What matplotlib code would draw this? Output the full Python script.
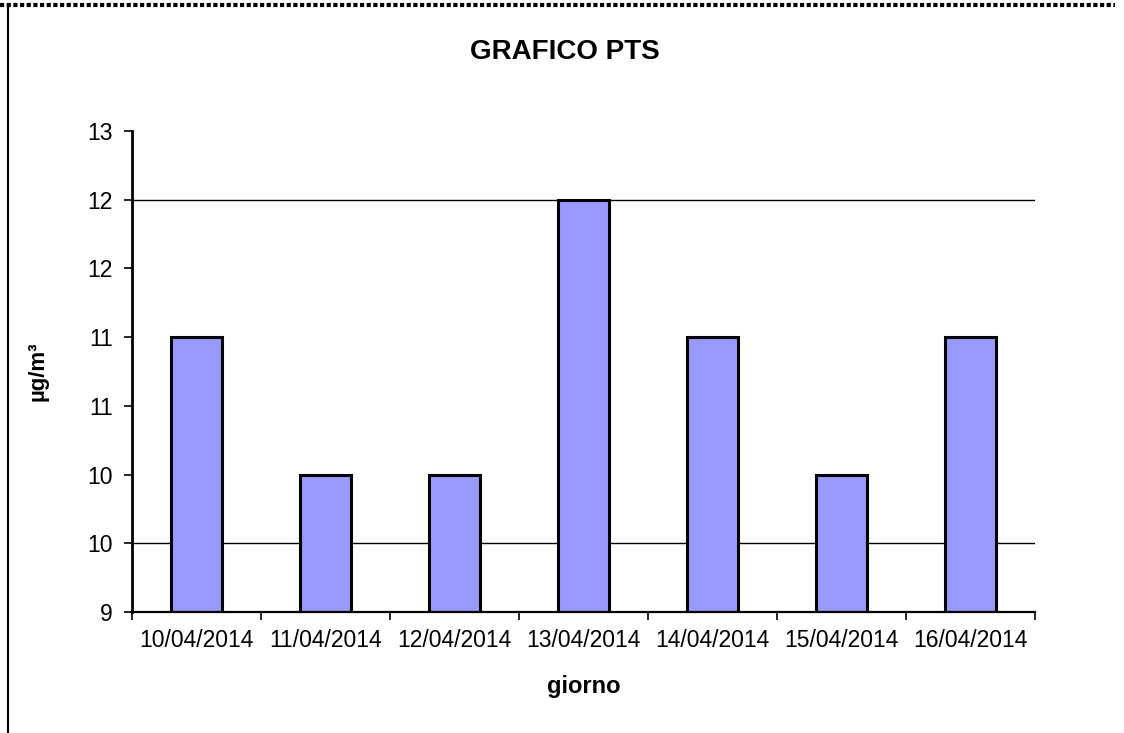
import matplotlib.pyplot as plt
from matplotlib.lines import Line2D

plt.rcParams['font.family'] = ['Liberation Sans', 'DejaVu Sans']

giorni = ["10/04/2014", "11/04/2014", "12/04/2014", "13/04/2014",
          "14/04/2014", "15/04/2014", "16/04/2014"]
pts = [11.0, 10.0, 10.0, 12.0, 11.0, 10.0, 11.0]

y_ticks = [9.0, 9.5, 10.0, 10.5, 11.0, 11.5, 12.0, 12.5]
y_labels = ["9", "10", "10", "11", "11", "12", "12", "13"]
grid_levels = [9.5, 12.0]

fig = plt.figure(figsize=(11.24, 7.33), dpi=100)
ax = fig.add_axes([0.1174, 0.1651, 0.8034, 0.6562])

for g in grid_levels:
    ax.axhline(g, color="black", lw=1.0, zorder=1)

x = range(len(giorni))
ax.bar(x, [v - 9.0 for v in pts], bottom=9.0, width=0.4,
       color="#9999FF", edgecolor="black", linewidth=2.2, zorder=2)

ax.set_xlim(-0.5, len(giorni) - 0.5)
ax.set_ylim(9.0, 12.5)
ax.set_yticks(y_ticks)
ax.set_yticklabels(y_labels)
ax.set_xticks([i - 0.5 for i in range(len(giorni) + 1)])
ax.set_xticklabels([])
ax.set_xticks(list(x), minor=True)
ax.set_xticklabels(giorni, minor=True)
ax.tick_params(axis="x", which="minor", length=0, labelsize=16.5, pad=12)
ax.tick_params(axis="x", which="major", direction="out", length=6, width=1.2)
ax.tick_params(axis="y", direction="out", length=6, width=1.2,
               labelsize=16.5, pad=8)

for side in ("top", "right"):
    ax.spines[side].set_visible(False)
ax.spines["left"].set_linewidth(2)
ax.spines["bottom"].set_linewidth(1.6)

ax.set_ylabel("µg/m³", fontsize=16, fontweight="bold", labelpad=28)
ax.set_xlabel("giorno", fontsize=17, fontweight="bold", labelpad=17)
fig.text(0.503, 0.929, "GRAFICO PTS", ha="center", va="center",
         fontsize=20, fontweight="bold")

# outer frame of the chart area
fig.add_artist(Line2D([0, 0.992], [1 - 5 / 733] * 2, color="black",
                      lw=3, linestyle=(0, (1, 0.6))))
fig.add_artist(Line2D([8 / 1124] * 2, [0, 1 - 8 / 733], color="black", lw=1.5))

fig.savefig("out.png", dpi=100)
